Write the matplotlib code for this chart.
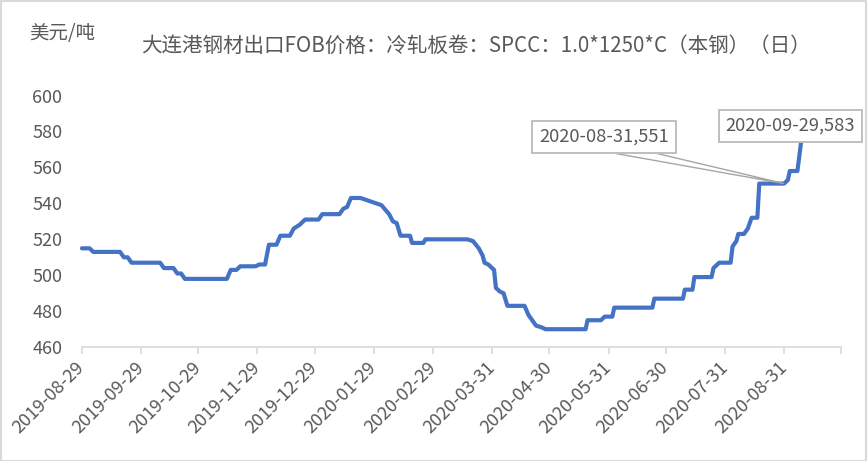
import matplotlib
matplotlib.use("Agg")
import matplotlib.pyplot as plt
import matplotlib.dates as mdates
from matplotlib.patches import Polygon, Rectangle
import pandas as pd

plt.rcParams['font.family'] = ['Noto Sans CJK SC', 'DejaVu Sans']

# ---- data (vertices of the daily price line) ----
dates = [
    "2019-08-29", "2019-09-02", "2019-09-04", "2019-09-18", "2019-09-20", "2019-09-22",
    "2019-09-24", "2019-10-09", "2019-10-11", "2019-10-16", "2019-10-18", "2019-10-20",
    "2019-10-22", "2019-11-13", "2019-11-15", "2019-11-18", "2019-11-20", "2019-11-28",
    "2019-11-30", "2019-12-03", "2019-12-05", "2019-12-09", "2019-12-11", "2019-12-16",
    "2019-12-18", "2019-12-21", "2019-12-24", "2019-12-31", "2020-01-02", "2020-01-11",
    "2020-01-13", "2020-01-15", "2020-01-17", "2020-01-22", "2020-02-02", "2020-02-06",
    "2020-02-08", "2020-02-10", "2020-02-12", "2020-02-17", "2020-02-18", "2020-02-24",
    "2020-02-25", "2020-03-18", "2020-03-21", "2020-03-24", "2020-03-26", "2020-03-27",
    "2020-03-29", "2020-04-01", "2020-04-02", "2020-04-04", "2020-04-06", "2020-04-08",
    "2020-04-17", "2020-04-19", "2020-04-21", "2020-04-23", "2020-04-26", "2020-04-28",
    "2020-05-19", "2020-05-20", "2020-05-27", "2020-05-29", "2020-06-02", "2020-06-03",
    "2020-06-23", "2020-06-24", "2020-07-09", "2020-07-10", "2020-07-14", "2020-07-15",
    "2020-07-24", "2020-07-25", "2020-07-28", "2020-08-03", "2020-08-04", "2020-08-06",
    "2020-08-07", "2020-08-10", "2020-08-12", "2020-08-13", "2020-08-14", "2020-08-17",
    "2020-08-18", "2020-08-31", "2020-09-02", "2020-09-03", "2020-09-07", "2020-09-10",
]
prices = [
    515, 515, 513, 513, 510, 510,
    507, 507, 504, 504, 501, 501,
    498, 498, 503, 503, 505, 505,
    506, 506, 517, 517, 522, 522,
    526, 528, 531, 531, 534, 534,
    537, 538, 543, 543, 539, 534,
    530, 529, 522, 522, 518, 518,
    520, 520, 519, 515, 511, 507,
    506, 503, 493, 491, 490, 483,
    483, 478, 475, 472, 471, 470,
    470, 475, 475, 477, 477, 482,
    482, 487, 487, 492, 492, 499,
    499, 504, 507, 507, 516, 519,
    523, 523, 526, 529, 532, 532,
    551, 551, 553, 558, 558, 583,
]

tick_dates = ["2019-08-29", "2019-09-29", "2019-10-29", "2019-11-29", "2019-12-29",
              "2020-01-29", "2020-02-29", "2020-03-31", "2020-04-30", "2020-05-31",
              "2020-06-30", "2020-07-31", "2020-08-31", "2020-09-30"]
tick_labels = tick_dates[:-1] + [""]

y_ticks = [460, 480, 500, 520, 540, 560, 580, 600]

title = "大连港钢材出口FOB价格：冷轧板卷：SPCC：1.0*1250*C（本钢）（日）"
unit = "美元/吨"
callouts = [("2020-08-31", 551, "2020-08-31,551"), ("2020-09-10", 583, "2020-09-29,583")]

# ---- figure ----
W, H = 867, 461
fig = plt.figure(figsize=(W / 100, H / 100), dpi=100)
ax = fig.add_axes([81.9 / W, 1 - 347.2 / H, (841.3 - 81.9) / W, (347.2 - 95.5) / H])

x = pd.to_datetime(dates)
ax.plot(x, prices, color="#4472C4", lw=3.0, solid_joinstyle="round", solid_capstyle="round",
        zorder=3, clip_on=False)

ax.set_xlim(pd.Timestamp(tick_dates[0]), pd.Timestamp(tick_dates[-1]))
ax.set_ylim(460, 600)
ax.set_yticks(y_ticks)
ax.set_xticks(pd.to_datetime(tick_dates))
ax.set_xticklabels(tick_labels, rotation=45, ha="right", va="center", rotation_mode="anchor")

for s in ["left", "right", "top"]:
    ax.spines[s].set_visible(False)
ax.spines["bottom"].set_color("#D9D9D9")
ax.spines["bottom"].set_linewidth(1.2)
ax.tick_params(axis="y", length=0, pad=14, labelsize=13, labelcolor="#595959")
ax.tick_params(axis="x", length=5, width=1.2, color="#D9D9D9", pad=8, labelsize=13,
               labelcolor="#595959", direction="out")

# title and unit
fig.text(475.5 / W, 1 - 46 / H, title, ha="center", va="center", fontsize=14.8, color="#595959")
fig.text(62 / W, 1 - 33 / H, unit, ha="center", va="center", fontsize=14, color="#595959")

# callouts
to_fig = fig.transFigure.inverted()
d0, v0, t0 = callouts[0]
tip = to_fig.transform(ax.transData.transform((mdates.date2num(pd.Timestamp(d0)), v0)))
wedge = Polygon([(613 / W, 1 - 153 / H), tuple(tip), (655 / W, 1 - 153 / H)], closed=True,
                facecolor="white", edgecolor="#A6A6A6", lw=1.0, transform=fig.transFigure,
                zorder=5)
fig.add_artist(wedge)
box_kw = dict(boxstyle="square,pad=0.38", fc="white", ec="#BFBFBF", lw=1.4)
fig.text(604 / W, 1 - 137 / H, t0, ha="center", va="center", fontsize=13.2, color="#595959",
         bbox=box_kw, zorder=6)
d1, v1, t1 = callouts[1]
fig.text(790.5 / W, 1 - 126 / H, t1, ha="center", va="center", fontsize=13.2, color="#595959",
         bbox=box_kw, zorder=6)

# chart border
fig.add_artist(Rectangle((0.5 / W, 0.5 / H), 1 - 1.5 / W, 1 - 1.5 / H, transform=fig.transFigure,
                         fill=False, ec="#D9D9D9", lw=1.5, zorder=10))

fig.savefig("out.png", dpi=100)
